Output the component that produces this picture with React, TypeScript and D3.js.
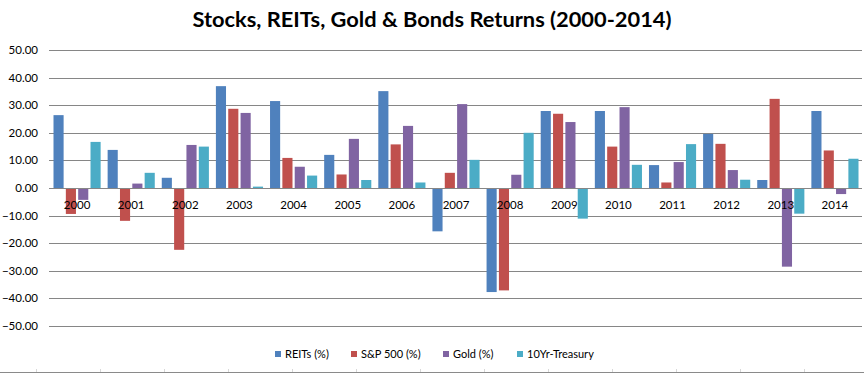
import React from "react";
import * as d3 from "d3";

const years = ["2000","2001","2002","2003","2004","2005","2006","2007","2008","2009","2010","2011","2012","2013","2014"];
const reits = [26.4, 13.8, 3.7, 36.9, 31.5, 12.0, 35.1, -15.7, -37.7, 27.9, 27.9, 8.3, 19.6, 2.9, 27.9];
const sp500 = [-9.4, -11.9, -22.4, 28.7, 10.9, 4.9, 15.8, 5.5, -37.1, 26.9, 15.0, 2.0, 16.0, 32.3, 13.6];
const gold = [-4.3, 1.6, 15.6, 27.2, 7.7, 17.8, 22.5, 30.4, 4.8, 23.9, 29.3, 9.4, 6.5, -28.5, -2.2];
const treasury = [16.7, 5.5, 15.0, 0.5, 4.5, 2.9, 2.0, 10.2, 20.0, -11.1, 8.4, 15.9, 3.0, -9.3, 10.6];
const seriesNames = ["REITs (%)", "S&P 500 (%)", "Gold (%)", "10Yr-Treasury"];
const seriesColors = ["#4F81BD", "#C0504D", "#8064A2", "#4BACC6"];
const yTicks = [50, 40, 30, 20, 10, 0, -10, -20, -30, -40, -50];

const W = 864;
const H = 375;
const FONT = "Lato, 'Open Sans', sans-serif";

export default function App() {
  const seriesData = [reits, sp500, gold, treasury];
  const x0 = d3.scaleBand<string>().domain(years).range([50, 862]).padding(0);
  const x1 = d3
    .scaleBand<string>()
    .domain(seriesNames)
    .range([3.5, x0.bandwidth() - 3.5])
    .paddingInner(0.18)
    .paddingOuter(0);
  const y = d3.scaleLinear().domain([-50, 50]).range([326, 50]);
  const fmt = d3.format(".2f");

  const legendX = [275, 351, 443, 517];
  const colTicks = d3.range(36, 864, 64);

  return (
    <svg
      width={W}
      height={H}
      style={{ position: "absolute", left: 0, top: 0, background: "#fff" }}
      fontFamily={FONT}
    >
      <text
        x={432}
        y={27}
        textAnchor="middle"
        fontSize={20}
        fontWeight="bold"
        fill="#000"
        textLength={479}
        lengthAdjust="spacingAndGlyphs"
      >
        Stocks, REITs, Gold &amp; Bonds Returns (2000-2014)
      </text>

      {yTicks.map((t) => (
        <g key={t}>
          {t !== 0 && (
            <line x1={49} x2={862} y1={Math.round(y(t)) + 0.5} y2={Math.round(y(t)) + 0.5} stroke="#868686" strokeWidth={1} />
          )}
          <text x={38} y={y(t)} dy="0.35em" textAnchor="end" fontSize={11.5} fill="#000">
            {fmt(t)}
          </text>
        </g>
      ))}

      {seriesData.map((vals, si) =>
        vals.map((v, i) => {
          const bx = (x0(years[i]) as number) + (x1(seriesNames[si]) as number);
          const top = y(Math.max(0, v));
          const bot = y(Math.min(0, v));
          return (
            <rect
              key={si + "-" + i}
              x={bx}
              y={top}
              width={x1.bandwidth()}
              height={Math.max(0.5, bot - top)}
              fill={seriesColors[si]}
            />
          );
        })
      )}

      <line x1={49} x2={862} y1={Math.round(y(0)) + 0.5} y2={Math.round(y(0)) + 0.5} stroke="#868686" strokeWidth={1} />

      {years.map((yr) => (
        <text
          key={yr}
          x={(x0(yr) as number) + x0.bandwidth() / 2}
          y={209}
          textAnchor="middle"
          fontSize={11.5}
          fill="#000"
        >
          {yr}
        </text>
      ))}

      {seriesNames.map((s, i) => (
        <g key={s}>
          <rect x={legendX[i]} y={351} width={6} height={6} fill={seriesColors[i]} />
          <text x={legendX[i] + 10} y={354} dy="0.35em" fontSize={11} fill="#000">
            {s}
          </text>
        </g>
      ))}

      <line x1={0} x2={864} y1={372.5} y2={372.5} stroke="#8a8a8a" strokeWidth={1} />
      {colTicks.map((cx) => (
        <line key={cx} x1={cx + 0.5} x2={cx + 0.5} y1={369} y2={372} stroke="#d8d8d8" strokeWidth={1} />
      ))}
    </svg>
  );
}
